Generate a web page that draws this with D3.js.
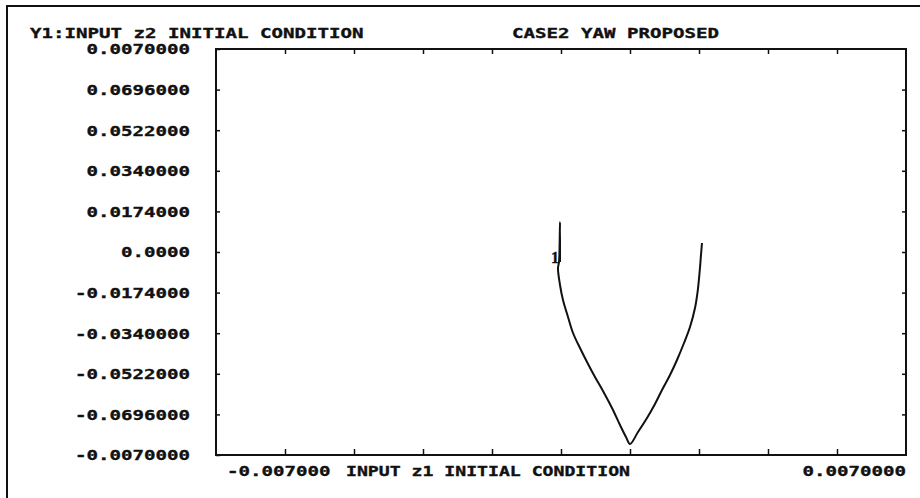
<!DOCTYPE html>
<html>
<head>
<meta charset="utf-8">
<script src="https://cdn.jsdelivr.net/npm/d3@7"></script>
<style>
  html, body { margin: 0; padding: 0; background: #fff; }
  svg text { font-family: "DejaVu Sans Mono", monospace; font-weight: bold; fill: #111; stroke: #111; stroke-width: 0.35px; }
</style>
</head>
<body>
<svg id="chart" width="920" height="498"></svg>
<script>
// Axis range and tick marks (symmetric about zero)
const xDomain = [-0.087, 0.087];
const yDomain = [-0.087, 0.087];
const xTickValues = [-0.0696, -0.0522, -0.0348, -0.0174, 0, 0.0174, 0.0348, 0.0522, 0.0696];
const yTickValues = [0.087, 0.0696, 0.0522, 0.0348, 0.0174, 0, -0.0174, -0.0348, -0.0522, -0.0696, -0.087];
const yTickLabels = ["0.0070000", "0.0696000", "0.0522000", "0.0340000", "0.0174000", "0.0000",
                     "-0.0174000", "-0.0340000", "-0.0522000", "-0.0696000", "-0.0070000"];
const xEndLabels = ["-0.007000", "0.0070000"];

// Trajectory 1: z1 (horizontal) against z2 (vertical)
const z1 = [-0.00025, -0.00025, -0.0005, -0.00076, -0.00025, 0.0005, 0.00177, 0.00303, 0.00479,
            0.00656, 0.00857, 0.01059, 0.01286, 0.01488, 0.01639, 0.0174,
            0.01942, 0.02169, 0.0237, 0.02547, 0.02749, 0.02925, 0.03102, 0.03253,
            0.03379, 0.0345, 0.035, 0.0353, 0.03555];
const z2 = [-0.00429, 0.01286, -0.00429, -0.00686, -0.01414, -0.02057, -0.02786, -0.03471, -0.04114,
            -0.04714, -0.05357, -0.05957, -0.06686, -0.07414, -0.07929, -0.08229,
            -0.07714, -0.07114, -0.06514, -0.05914, -0.05271, -0.04629, -0.039, -0.03214,
            -0.024, -0.01629, -0.00771, -0.00129, 0.00386];

const titleLeft = "Y1:INPUT z2 INITIAL CONDITION";
const titleRight = "CASE2 YAW PROPOSED";
const xAxisTitle = "INPUT z1 INITIAL CONDITION";
const curveLabel = "1";

const CW = 11.5; // character cell width of the plotter font
const svg = d3.select("#chart");
const plot = { left: 216, right: 906, top: 49, bottom: 455 };

const x = d3.scaleLinear().domain(xDomain).range([plot.left, plot.right]);
const y = d3.scaleLinear().domain(yDomain).range([plot.bottom, plot.top]);

function wide(sel) {
  sel.attr("textLength", function () { return this.textContent.length * CW; })
     .attr("lengthAdjust", "spacingAndGlyphs");
}

// Outer page frame (top and left edges)
svg.append("path")
  .attr("d", "M7,498 L7,6 L920,6")
  .attr("fill", "none").attr("stroke", "#111").attr("stroke-width", 2);

// Titles
svg.append("text").attr("x", 30).attr("y", 34).attr("dominant-baseline", "middle")
  .style("font-size", "14px").text(titleLeft).call(wide);
svg.append("text").attr("x", 512).attr("y", 34).attr("dominant-baseline", "middle")
  .style("font-size", "14px").text(titleRight).call(wide);

// Plot box
svg.append("rect")
  .attr("x", plot.left).attr("y", plot.top)
  .attr("width", plot.right - plot.left).attr("height", plot.bottom - plot.top)
  .attr("fill", "none").attr("stroke", "#111").attr("stroke-width", 2);

// Left axis: inward ticks with labels
const gl = svg.append("g").attr("transform", `translate(${plot.left},0)`)
  .call(d3.axisLeft(y).tickValues(yTickValues).tickSize(-4).tickPadding(26)
    .tickFormat((d, i) => yTickLabels[i]));
gl.select(".domain").remove();
gl.selectAll("line").attr("stroke", "#111").attr("stroke-width", 1.5);
gl.selectAll("text").style("font-size", "14px").attr("dy", "0.35em")
  .attr("fill", "#111").call(wide);

// Right axis ticks
const gr = svg.append("g").attr("transform", `translate(${plot.right},0)`)
  .call(d3.axisRight(y).tickValues(yTickValues.slice(1, -1)).tickSize(-4).tickFormat(""));
gr.select(".domain").remove();
gr.selectAll("line").attr("stroke", "#111").attr("stroke-width", 1.5);

// Bottom and top axis ticks
const gb = svg.append("g").attr("transform", `translate(0,${plot.bottom})`)
  .call(d3.axisBottom(x).tickValues(xTickValues).tickSize(-6).tickFormat(""));
gb.select(".domain").remove();
gb.selectAll("line").attr("stroke", "#111").attr("stroke-width", 1.5);
const gt = svg.append("g").attr("transform", `translate(0,${plot.top})`)
  .call(d3.axisTop(x).tickValues(xTickValues).tickSize(-5).tickFormat(""));
gt.select(".domain").remove();
gt.selectAll("line").attr("stroke", "#111").attr("stroke-width", 1.5);

// Bottom axis end labels and title
svg.append("text").attr("x", 227).attr("y", 472).attr("dominant-baseline", "middle")
  .style("font-size", "14px").text(xEndLabels[0]).call(wide);
svg.append("text").attr("x", 346).attr("y", 472).attr("dominant-baseline", "middle")
  .style("font-size", "14px").text(xAxisTitle)
  .attr("textLength", 284).attr("lengthAdjust", "spacingAndGlyphs");
svg.append("text").attr("x", plot.right).attr("y", 472).attr("dominant-baseline", "middle")
  .attr("text-anchor", "end")
  .style("font-size", "14px").text(xEndLabels[1]).call(wide);

// Trajectory
const pts = z1.map((v, i) => [v, z2[i]]);
svg.append("path")
  .datum(pts)
  .attr("d", d3.line().x(d => x(d[0])).y(d => y(d[1])).curve(d3.curveCatmullRom.alpha(0.5)))
  .attr("fill", "none").attr("stroke", "#111").attr("stroke-width", 2)
  .attr("stroke-linejoin", "round");

// Curve marker at the start point
svg.append("text")
  .attr("x", x(z1[0]) - 1).attr("y", y(z2[0]) + 1)
  .attr("text-anchor", "end")
  .style("font-family", "'Liberation Serif', serif")
  .style("font-size", "16px").style("font-weight", "bold")
  .text(curveLabel);
</script>
</body>
</html>
